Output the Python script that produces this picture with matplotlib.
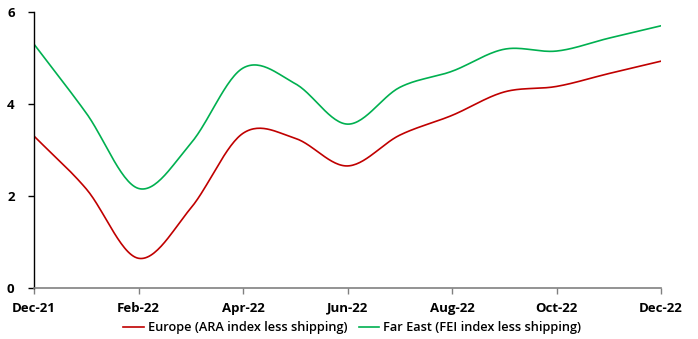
import numpy as np
import matplotlib
matplotlib.use('Agg')
import matplotlib.pyplot as plt

# monthly values, Dec-21 .. Dec-22
months = ['Dec-21', 'Jan-22', 'Feb-22', 'Mar-22', 'Apr-22', 'May-22', 'Jun-22',
          'Jul-22', 'Aug-22', 'Sep-22', 'Oct-22', 'Nov-22', 'Dec-22']
europe = [3.30, 2.15, 0.64, 1.73, 3.36, 3.25, 2.65, 3.32, 3.75, 4.26, 4.38, 4.66, 4.93]
far_east = [5.30, 3.80, 2.16, 3.14, 4.78, 4.44, 3.56, 4.36, 4.71, 5.19, 5.15, 5.43, 5.70]

RED = '#C00000'
GREEN = '#00B050'


def smooth(y, steps=30):
    # Catmull-Rom curve through the points (Excel-like "smoothed line")
    y = np.asarray(y, dtype=float)
    x = np.arange(len(y), dtype=float)
    px = np.concatenate([[2 * x[0] - x[1]], x, [2 * x[-1] - x[-2]]])
    py = np.concatenate([[2 * y[0] - y[1]], y, [2 * y[-1] - y[-2]]])
    xs, ys = [], []
    t = np.linspace(0, 1, steps, endpoint=False)
    for i in range(1, len(px) - 2):
        for p, out in ((px, xs), (py, ys)):
            p0, p1, p2, p3 = p[i - 1], p[i], p[i + 1], p[i + 2]
            out.extend(0.5 * ((2 * p1) + (-p0 + p2) * t
                              + (2 * p0 - 5 * p1 + 4 * p2 - p3) * t ** 2
                              + (-p0 + 3 * p1 - 3 * p2 + p3) * t ** 3))
    xs.append(x[-1])
    ys.append(y[-1])
    return np.array(xs), np.array(ys)


plt.rcParams['font.family'] = ['Open Sans', 'DejaVu Sans']

fig = plt.figure(figsize=(6.98, 3.39), dpi=100)
ax = fig.add_axes([34 / 698, 1 - 287.7 / 339, (661 - 34) / 698, (287.7 - 12) / 339])

sx, sy = smooth(europe)
ax.plot(sx, sy, color=RED, linewidth=1.2, label='Europe (ARA index less shipping)')
sx, sy = smooth(far_east)
ax.plot(sx, sy, color=GREEN, linewidth=1.2, label='Far East (FEI index less shipping)')

ax.set_xlim(0, len(months) - 1)
ax.set_ylim(0, 6)
ax.set_yticks([0, 2, 4, 6])
ticks = list(range(0, len(months), 2))
ax.set_xticks(ticks)
ax.set_xticklabels([months[i] for i in ticks])

for s in ('top', 'right'):
    ax.spines[s].set_visible(False)
ax.spines['left'].set_color('black')
ax.spines['bottom'].set_color('#808080')
ax.spines['left'].set_linewidth(1.0)
ax.spines['bottom'].set_linewidth(1.2)
ax.tick_params(axis='y', length=4, width=1, color='black', pad=10, labelsize=9.5)
ax.tick_params(axis='x', length=4, width=1, color='#808080', pad=6, labelsize=9.5)
for lbl in ax.get_xticklabels() + ax.get_yticklabels():
    lbl.set_fontweight('bold')

handles, labels = ax.get_legend_handles_labels()
fig.legend(handles, labels, loc='center', bbox_to_anchor=(352 / 698, 1 - 328 / 339),
           ncol=2, frameon=False, handlelength=1.6, handletextpad=0.3,
           columnspacing=0.9, borderaxespad=0, borderpad=0,
           prop={'weight': 'semibold', 'size': 9.2})

fig.savefig('out.png', dpi=100)
